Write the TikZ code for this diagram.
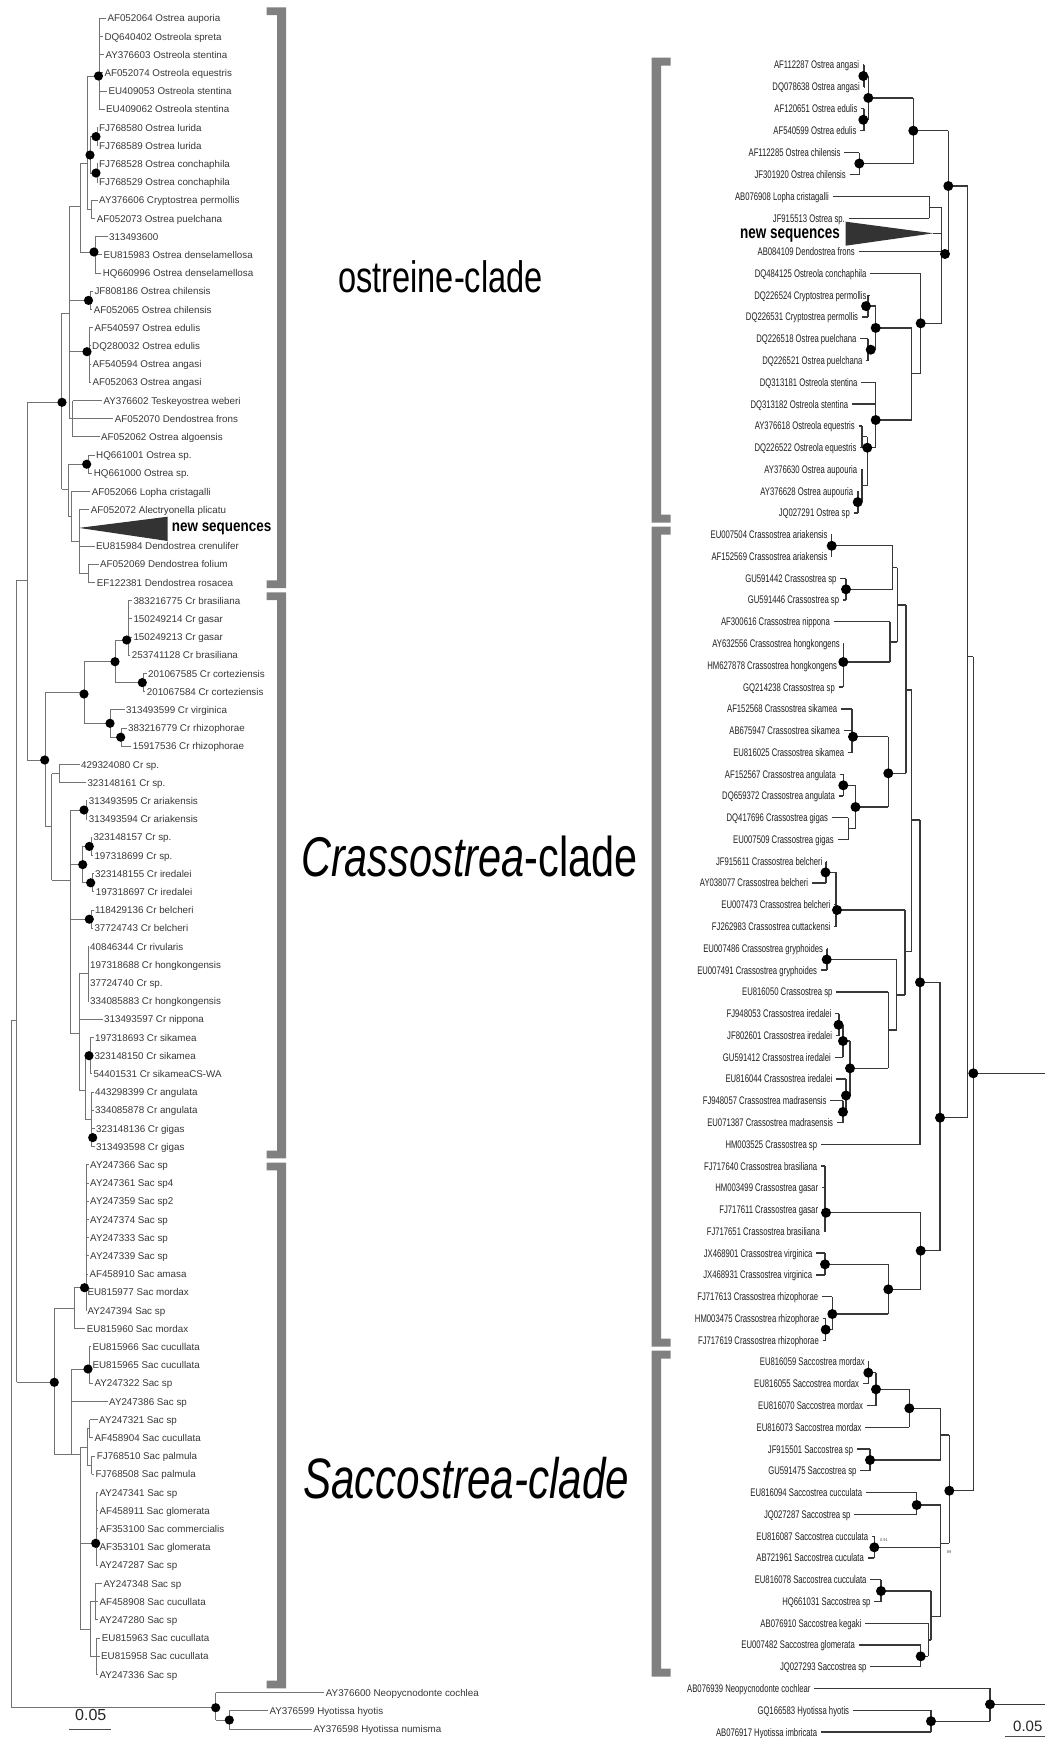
\documentclass[tikz,border=0pt]{standalone}
\usepackage{fontspec}
\setmainfont{Liberation Sans}
\newfontfamily\narrowfont[FakeStretch=0.7]{Liberation Sans}
\newfontfamily\seqLfont[FakeStretch=0.84]{Liberation Sans}
\newfontfamily\seqRfont[FakeStretch=0.75]{Liberation Sans}
\newfontfamily\cladefont[FakeStretch=0.74]{Liberation Sans}
\newcounter{dotc}
\tikzset{
 lt/.style={draw=black!55, line width=0.9pt},
 rt/.style={draw=black!78, line width=1.3pt},
 llab/.style={anchor=west, inner sep=0pt, font=\fontsize{9.8}{10}\selectfont, text=black!78, text height=7pt, text depth=0pt},
 rlab/.style={anchor=east, inner sep=0pt, font=\narrowfont\fontsize{11}{11}\selectfont, text=black!88, text height=7.9pt, text depth=0pt},
 ldotst/.style={fill=black, circle, inner sep=0pt, minimum size=9.2pt},
 rdotst/.style={fill=black, circle, inner sep=0pt, minimum size=10pt},
 brk/.style={fill=black!50, draw=none},
 cladelab/.style={anchor=base west, inner sep=0pt, text=black},
}
\newcommand\vL[3]{\draw[lt] (#1,#2) -- (#1,#3);}
\newcommand\hL[3]{\draw[lt] (#1,#3) -- (#2,#3);}
\newcommand\vR[3]{\draw[rt] (#1,#2) -- (#1,#3);}
\newcommand\hR[3]{\draw[rt] (#1,#3) -- (#2,#3);}
\newcommand\dotL[2]{\stepcounter{dotc}\node[ldotst] (dl\thedotc) at (#1,#2) {};}
\newcommand\dotR[2]{\stepcounter{dotc}\node[rdotst] (dr\thedotc) at (#1,#2) {};}
\newcommand\lleaf[4]{%
 \pgfmathsetmacro\yy{18.3+(#1-1)*18.2}%
 \draw[lt] (#2,\yy) -- ({#3-1.5},\yy);%
 \node[llab] (L#1) at (#3,\yy) {#4};}
\newcommand\rleaf[4]{%
 \pgfmathsetmacro\yy{#1<9 ? 65+(#1-1)*21.9 : 251.7+(#1-9)*21.77}%
 \draw[rt] ({#2+3.5},\yy) -- (#3,\yy);%
 \node[rlab] (R#1) at (#2,\yy) {#4};}
\newcommand\lbrk[2]{\fill[brk] (266.7,#1) -- (286,#1) -- (286,#2) -- (266.7,#2) -- (266.7,{#2-7.7}) -- (277,{#2-7.7}) -- (277,{#1+7.7}) -- (266.7,{#1+7.7}) -- cycle;}
\newcommand\rbrk[2]{\fill[brk] (670.7,#1) -- (651.7,#1) -- (651.7,#2) -- (670.7,#2) -- (670.7,{#2-8}) -- (661,{#2-8}) -- (661,{#1+8}) -- (670.7,{#1+8}) -- cycle;}
\begin{document}
\begin{tikzpicture}[x=1pt,y=-1pt]
\fill[white] (0,0) rectangle (1045,1738);
\path[use as bounding box] (0,0) rectangle (1045,1738);
% ================= LEFT TREE =================
% ostreine
\vL{99}{18.3}{109.3} \hL{87.3}{99}{76}
\vL{97}{127.5}{145.7} \vL{97}{163.9}{182.1}
\vL{90}{136.6}{173} \hL{90}{97}{136.6} \hL{90}{97}{173} \hL{87.3}{90}{155}
\vL{91.7}{200.3}{218.5} \hL{87.3}{91.7}{209.4}
\vL{87.3}{76}{209.4} \hL{80}{87.3}{163}
\vL{95}{236.7}{273.1} \hL{80}{95}{252}
\vL{80}{163}{252} \hL{69}{80}{206.7}
\vL{90}{291.3}{309.5} \hL{69}{90}{300.4}
\vL{89}{327.7}{382.3} \hL{69}{89}{351.7}
\vL{72.7}{400.5}{436.9}
\vL{69}{206.7}{418.7} \hL{61.7}{69}{313.3}
\vL{88}{455.1}{473.3} \hL{68.3}{88}{464.2}
\vL{88.3}{564.3}{582.5} \hL{79}{88.3}{573.4}
\vL{79}{509.7}{573.4} \hL{71}{79}{541.7}
\vL{71}{491.5}{541.7} \hL{68.3}{71}{516.7}
\vL{68.3}{464.2}{516.7} \hL{61.7}{68.3}{489}
\vL{61.7}{313.3}{489} \hL{27.3}{61.7}{402.3}
\fill[black!80] (79,527.9) -- (167.7,516.7) -- (167.7,541) -- cycle;
% crassostrea
\vL{128.3}{600.7}{655.3} \vL{143}{673.5}{691.7}
\vL{115}{640}{682.6} \hL{115}{128.3}{640} \hL{115}{143}{682.6}
\vL{121}{728.1}{746.3} \vL{110}{709.9}{737.2} \hL{110}{121}{737.2}
\vL{84}{661.7}{723.3} \hL{84}{115}{661.7} \hL{84}{110}{723.3}
\hL{45}{84}{692}
\vL{59.3}{764.5}{782.7} \hL{51.7}{59.3}{773.6}
\vL{86}{800.9}{819.1}
\vL{91}{837.3}{855.5} \vL{92}{873.7}{891.9}
\vL{82.7}{846.4}{882.8} \hL{82.7}{91}{846.4} \hL{82.7}{92}{882.8}
\vL{91}{910.1}{928.3}
\vL{88.3}{946.5}{1001.1} \hL{79}{88.3}{973.8}
\vL{90}{1037.5}{1073.9} \vL{91}{1092.1}{1146.7}
\vL{85}{1055.7}{1119.4} \hL{85}{90}{1055.7} \hL{85}{91}{1119.4}
\vL{79}{973.8}{1090} \hL{79}{85}{1090}
\vL{70}{810}{1033} \hL{70}{86}{810} \hL{70}{82.7}{864.6} \hL{70}{91}{919.2} \hL{70}{79}{1033}
\vL{51.7}{773.6}{880} \hL{51.7}{70}{880}
\vL{45}{692}{826.7} \hL{45}{51.7}{826.7} \hL{27.3}{45}{760}
\vL{27.3}{402.3}{760} \hL{16.7}{27.3}{580}
% saccostrea
\vL{86}{1164.9}{1310.5} \hL{74}{86}{1287.7}
\vL{74}{1287.7}{1328.7} \hL{54.3}{74}{1308.2}
\vL{89}{1346.9}{1383.3} \hL{71}{89}{1369}
\vL{71}{1369}{1454.3}
\vL{89.5}{1419.7}{1437.9} \vL{91.5}{1456.1}{1474.3}
\vL{87.3}{1428.8}{1465.2} \hL{87.3}{89.5}{1428.8} \hL{87.3}{91.5}{1465.2} \hL{80}{87.3}{1447}
\vL{96}{1492.5}{1565.3} \hL{80}{96}{1543.3}
\vL{95}{1583.5}{1619.9} \vL{96.7}{1638.1}{1674.5}
\vL{90}{1601.7}{1656.3} \hL{90}{95}{1601.7} \hL{90}{96.7}{1656.3} \hL{80}{90}{1629}
\vL{80}{1447}{1629}
\hL{54.3}{80}{1454.3}
\vL{54.3}{1308.2}{1454.3} \hL{16.7}{54.3}{1382.3}
\vL{16.7}{580}{1382.3} \hL{11.7}{16.7}{1020}
\vL{11.7}{1020}{1707.7} \hL{11.7}{215.7}{1707.7}
\vL{215.7}{1692.7}{1720} \hL{215.7}{229.3}{1720}
\vL{229.3}{1710.9}{1729.1}
% left leaves
\lleaf{1}{99}{107.3}{AF052064 Ostrea auporia}
\lleaf{2}{99}{104.3}{DQ640402 Ostreola spreta}
\lleaf{3}{99}{105.3}{AY376603 Ostreola stentina}
\lleaf{4}{99}{104.3}{AF052074 Ostreola equestris}
\lleaf{5}{99}{108.3}{EU409053 Ostreola stentina}
\lleaf{6}{99}{106}{EU409062 Ostreola stentina}
\lleaf{7}{97}{99}{FJ768580 Ostrea lurida}
\lleaf{8}{97}{99}{FJ768589 Ostrea lurida}
\lleaf{9}{97}{99}{FJ768528 Ostrea conchaphila}
\lleaf{10}{97}{99}{FJ768529 Ostrea conchaphila}
\lleaf{11}{91.7}{99}{AY376606 Cryptostrea permollis}
\lleaf{12}{91.7}{96.7}{AF052073 Ostrea puelchana}
\lleaf{13}{95}{109}{313493600}
\lleaf{14}{95}{103.3}{EU815983 Ostrea denselamellosa}
\lleaf{15}{95}{102.7}{HQ660996 Ostrea denselamellosa}
\lleaf{16}{90}{94.3}{JF808186 Ostrea chilensis}
\lleaf{17}{90}{93.7}{AF052065 Ostrea chilensis}
\lleaf{18}{89}{94.3}{AF540597 Ostrea edulis}
\lleaf{19}{89}{92}{DQ280032 Ostrea edulis}
\lleaf{20}{89}{92.3}{AF540594 Ostrea angasi}
\lleaf{21}{89}{92.3}{AF052063 Ostrea angasi}
\lleaf{22}{72.7}{103.3}{AY376602 Teskeyostrea weberi}
\lleaf{23}{69}{114.7}{AF052070 Dendostrea frons}
\lleaf{24}{72.7}{101}{AF052062 Ostrea algoensis}
\lleaf{25}{88}{96}{HQ661001 Ostrea sp.}
\lleaf{26}{88}{93.7}{HQ661000 Ostrea sp.}
\lleaf{27}{71}{91.7}{AF052066 Lopha cristagalli}
\lleaf{28}{79}{90.7}{AF052072 Alectryonella plicatu}
\lleaf{30}{79}{96}{EU815984 Dendostrea crenulifer}
\lleaf{31}{88.3}{100}{AF052069 Dendostrea folium}
\lleaf{32}{88.3}{96.7}{EF122381 Dendostrea rosacea}
\lleaf{33}{128.3}{133.3}{383216775 Cr brasiliana}
\lleaf{34}{128.3}{133.3}{150249214 Cr gasar}
\lleaf{35}{128.3}{133.3}{150249213 Cr gasar}
\lleaf{36}{128.3}{131.7}{253741128 Cr brasiliana}
\lleaf{37}{143}{148}{201067585 Cr corteziensis}
\lleaf{38}{143}{146.7}{201067584 Cr corteziensis}
\lleaf{39}{110}{126}{313493599 Cr virginica}
\lleaf{40}{121}{128}{383216779 Cr rhizophorae}
\lleaf{41}{121}{132.7}{15917536 Cr rhizophorae}
\lleaf{42}{59.3}{81}{429324080 Cr sp.}
\lleaf{43}{59.3}{87.3}{323148161 Cr sp.}
\lleaf{44}{86}{88.7}{313493595 Cr ariakensis}
\lleaf{45}{86}{88.7}{313493594 Cr ariakensis}
\lleaf{46}{91}{93.3}{323148157 Cr sp.}
\lleaf{47}{91}{94.3}{197318699 Cr sp.}
\lleaf{48}{92}{95}{323148155 Cr iredalei}
\lleaf{49}{92}{95.7}{197318697 Cr iredalei}
\lleaf{50}{91}{95}{118429136 Cr belcheri}
\lleaf{51}{91}{94.3}{37724743 Cr belcheri}
\lleaf{52}{88.3}{90}{40846344 Cr rivularis}
\lleaf{53}{88.3}{90}{197318688 Cr hongkongensis}
\lleaf{54}{88.3}{90}{37724740 Cr sp.}
\lleaf{55}{88.3}{90}{334085883 Cr hongkongensis}
\lleaf{56}{79}{104}{313493597 Cr nippona}
\lleaf{57}{90}{95}{197318693 Cr sikamea}
\lleaf{58}{90}{94.3}{323148150 Cr sikamea}
\lleaf{59}{90}{93.3}{54401531 Cr sikameaCS-WA}
\lleaf{60}{91}{95}{443298399 Cr angulata}
\lleaf{61}{91}{95}{334085878 Cr angulata}
\lleaf{62}{91}{96}{323148136 Cr gigas}
\lleaf{63}{91}{96}{313493598 Cr gigas}
\lleaf{64}{86}{90}{AY247366 Sac sp}
\lleaf{65}{86}{90}{AY247361 Sac sp4}
\lleaf{66}{86}{90}{AY247359 Sac sp2}
\lleaf{67}{86}{90}{AY247374 Sac sp}
\lleaf{68}{86}{90}{AY247333 Sac sp}
\lleaf{69}{86}{90}{AY247339 Sac sp}
\lleaf{70}{86}{89.3}{AF458910 Sac amasa}
\lleaf{71}{86}{87.3}{EU815977 Sac mordax}
\lleaf{72}{86}{87.3}{AY247394 Sac sp}
\lleaf{73}{74}{86.7}{EU815960 Sac mordax}
\lleaf{74}{89}{92.3}{EU815966 Sac cucullata}
\lleaf{75}{89}{92.3}{EU815965 Sac cucullata}
\lleaf{76}{89}{94.3}{AY247322 Sac sp}
\lleaf{77}{71}{109}{AY247386 Sac sp}
\lleaf{78}{89.5}{99}{AY247321 Sac sp}
\lleaf{79}{89.5}{94.3}{AF458904 Sac cucullata}
\lleaf{80}{91.5}{96.7}{FJ768510 Sac palmula}
\lleaf{81}{91.5}{95.3}{FJ768508 Sac palmula}
\lleaf{82}{96}{99.3}{AY247341 Sac sp}
\lleaf{83}{96}{99.3}{AF458911 Sac glomerata}
\lleaf{84}{96}{99.3}{AF353100 Sac commercialis}
\lleaf{85}{96}{99.3}{AF353101 Sac glomerata}
\lleaf{86}{96}{99.3}{AY247287 Sac sp}
\lleaf{87}{95}{103.3}{AY247348 Sac sp}
\lleaf{88}{95}{99.3}{AF458908 Sac cucullata}
\lleaf{89}{95}{99.3}{AY247280 Sac sp}
\lleaf{90}{96.7}{101.7}{EU815963 Sac cucullata}
\lleaf{91}{96.7}{101}{EU815958 Sac cucullata}
\lleaf{92}{96.7}{99.3}{AY247336 Sac sp}
\lleaf{93}{215.7}{325.7}{AY376600 Neopycnodonte cochlea}
\lleaf{94}{229.3}{269.3}{AY376599 Hyotissa hyotis}
\lleaf{95}{229.3}{313.3}{AY376598 Hyotissa numisma}
% left dots
\dotL{98.5}{76} \dotL{96}{136.6} \dotL{90}{155} \dotL{96}{173} \dotL{94}{252} \dotL{88.5}{300.4}
\dotL{87}{351.7} \dotL{62}{402.3} \dotL{86.7}{464.2}
\dotL{126.7}{640} \dotL{115}{661.7} \dotL{142.3}{682.6} \dotL{84}{694} \dotL{110}{723.3} \dotL{120.7}{737.2}
\dotL{44.7}{760} \dotL{84}{810} \dotL{89.3}{846.4} \dotL{82.7}{864.6} \dotL{90.7}{882.8} \dotL{89.3}{919.2}
\dotL{89}{1055.7} \dotL{92.7}{1137.6}
\dotL{84.5}{1287.7} \dotL{88}{1369} \dotL{54.3}{1382.3} \dotL{95.7}{1543.3}
\dotL{215.7}{1707.7} \dotL{229.3}{1720}
% new sequences (left)
\node[anchor=base west, inner sep=0pt, font=\seqLfont\bfseries\fontsize{16}{16}\selectfont] (nsL) at (171.7,531.7) {new sequences};
% brackets left
\lbrk{7.3}{588} \lbrk{592.3}{1158.3} \lbrk{1162.7}{1688.3}
% clade labels
\node[cladelab, font=\cladefont\fontsize{44}{44}\selectfont] (cl1) at (338,292) {ostreine-clade};
\node[cladelab, font=\cladefont\fontsize{56}{56}\selectfont] (cl2) at (301,876) {\itshape Crassostrea\upshape-clade};
\node[cladelab, font=\cladefont\fontsize{57}{57}\selectfont] (cl3) at (303,1498) {\itshape Saccostrea-clade};
% scale bar left
\node[anchor=base west, inner sep=0pt, font=\fontsize{16}{16}\selectfont, text=black!85] (sbL) at (75,1720) {0.05};
\draw[line width=1.3pt, black!70] (69.3,1729.3) -- (110.7,1729.3);
% ================= RIGHT TREE =================
% ostreine
\vR{864}{65}{86.9} \vR{864}{108.8}{130.7}
\vR{868.3}{76}{119.8} \hR{864}{868.3}{76} \hR{864}{868.3}{119.8}
\hR{868.3}{913.3}{97.9}
\vR{859.3}{152.6}{174.5} \hR{859.3}{913.3}{163.5}
\vR{913.3}{97.9}{163.5} \hR{913.3}{948.3}{130.7}
\vR{929.3}{196.4}{218.3} \hR{929.3}{941.7}{207.3}
\hR{933.3}{941.7}{233.3}
\vR{941.7}{207.3}{323.3} \hR{941.7}{948.3}{254}
\vR{948.3}{130.7}{254} \hR{948.3}{967.7}{186}
\fill[black!80] (933.3,233.3) -- (845.7,221.7) -- (845.7,245.7) -- cycle;
\vR{868}{295.2}{317} \hR{868}{875.7}{306.1}
\vR{868}{338.8}{360.5} \hR{868}{875.7}{349.7}
\vR{875.7}{306.1}{349.7} \hR{875.7}{911.7}{327.9}
\vR{862}{425.9}{447.7} \hR{862}{867.3}{436.8}
\vR{858}{491.2}{513} \vR{862}{469.4}{502.1} \hR{858}{862}{502.1} \hR{862}{867.3}{485.8}
\vR{867.3}{436.8}{485.8} \hR{867.3}{875.7}{447.7}
\vR{875.7}{382.3}{447.7} \hR{875.7}{911.7}{420}
\vR{911.7}{327.9}{420} \hR{911.7}{920.7}{373.3}
\vR{920.7}{273.5}{373.3} \hR{920.7}{941.7}{323.3}
% crassostrea
\vR{831.7}{534.9}{556.7} \hR{831.7}{892.7}{545.8}
\vR{846}{578.5}{600.2} \hR{846}{892.7}{589.3}
\vR{892.7}{545.8}{589.3} \hR{892.7}{897.3}{567.5}
\vR{843.3}{643.8}{687.3} \hR{843.3}{890}{662}
\vR{890}{622}{662} \hR{890}{897.3}{642}
\vR{897.3}{567.5}{642} \hR{897.3}{906}{605}
\vR{852}{709.1}{752.6} \hR{852}{888.3}{736.7}
\vR{843.3}{774.4}{796.2} \hR{843.3}{855.5}{785.3}
\vR{848.3}{817.9}{839.7} \hR{848.3}{855.5}{828.8}
\vR{855.5}{785.3}{828.8} \hR{855.5}{888.3}{807}
\vR{888.3}{736.7}{807} \hR{888.3}{906}{773.3}
\vR{906}{605}{773.3} \hR{906}{911.7}{690}
\vR{826}{861.5}{883.3} \hR{826}{836}{872.4}
\vR{836}{872.4}{926.8} \hR{836}{905}{910}
\vR{827}{948.6}{970.4} \hR{827}{896.7}{959.5}
\vR{839}{1013.9}{1035.7} \hR{839}{843}{1024.8}
\vR{843}{1024.8}{1057.4} \hR{843}{850}{1041}
\vR{843}{1101}{1122.8} \hR{843}{846}{1111.9}
\vR{846}{1079.2}{1111.9} \hR{846}{850}{1095.5}
\vR{850}{1041}{1095.5} \hR{850}{888.3}{1068.3}
\vR{888.3}{992.1}{1068.3} \hR{888.3}{896.7}{1030}
\vR{896.7}{959.5}{1030} \hR{896.7}{905}{995}
\vR{905}{910}{995} \hR{905}{911.7}{951.7}
\vR{911.7}{690}{951.7} \hR{911.7}{920}{820}
\vR{920}{820}{1144.6} \hR{920}{940}{982.3}
\vR{825}{1166.3}{1231.7} \hR{825}{920.7}{1212.7}
\vR{825}{1253.4}{1275.2} \hR{825}{888.3}{1264.3}
\vR{825.7}{1318.8}{1340.5} \hR{825.7}{832.3}{1329.6}
\vR{832.3}{1297}{1329.6} \hR{832.3}{888.3}{1314}
\vR{888.3}{1264.3}{1314} \hR{888.3}{920.7}{1289.3}
\vR{920.7}{1212.7}{1289.3} \hR{920.7}{940}{1250.7}
\vR{940}{982.3}{1250.7} \hR{940}{967.7}{1117.7}
\vR{967.7}{186}{1117.7} \hR{967.7}{973.3}{656.7}
\vR{973.3}{656.7}{1490.7} \hR{973.3}{1045}{1073.3}
% saccostrea
\vR{868.3}{1362}{1383.8}
\vR{876}{1372.7}{1405.6} \hR{868.3}{876}{1372.7} \hR{876}{909.3}{1389.3}
\vR{909.3}{1389.3}{1427.4} \hR{909.3}{940.7}{1408.3}
\vR{870}{1449.2}{1471}   \hR{870}{940.7}{1460}
\vR{940.7}{1408.3}{1460} \hR{940.7}{949.3}{1435}
\vR{916.7}{1492.8}{1514.5} \hR{916.7}{940.7}{1505}
\vR{874.3}{1536.3}{1558.1} \hR{874.3}{940.7}{1547.3}
\vR{881}{1579.8}{1601.6} \hR{881}{931}{1591}
\vR{920.7}{1645.1}{1666.9} \hR{920.7}{928.3}{1656.3}
\vR{928.3}{1623.3}{1656.3} \hR{928.3}{931}{1640}
\vR{931}{1591}{1640} \hR{931}{940.7}{1616.7}
\vR{940.7}{1505}{1616.7} \hR{940.7}{949.3}{1543.3}
\vR{949.3}{1435}{1543.3} \hR{949.3}{973.3}{1490.7}
% outgroup
\vR{931}{1710.1}{1731.9} \hR{931}{990}{1721.2}
\vR{990}{1688.3}{1721.2} \hR{990}{1045}{1704.3}
% right leaves
\rleaf{1}{859.3}{864}{AF112287 Ostrea angasi}
\rleaf{2}{860}{864}{DQ078638 Ostrea angasi}
\rleaf{3}{857.7}{864}{AF120651 Ostrea edulis}
\rleaf{4}{856.7}{864}{AF540599 Ostrea edulis}
\rleaf{5}{840.7}{859.3}{AF112285 Ostrea chilensis}
\rleaf{6}{846}{859.3}{JF301920 Ostrea chilensis}
\rleaf{7}{829}{929.3}{AB076908 Lopha cristagalli}
\rleaf{8}{845}{929.3}{JF915513 Ostrea sp.}
\rleaf{9}{855}{941.7}{AB084109 Dendostrea frons}
\rleaf{10}{866.7}{920.7}{DQ484125 Ostreola conchaphila}
\rleaf{11}{866.7}{868}{DQ226524 Cryptostrea permollis}
\rleaf{12}{858.3}{868}{DQ226531 Cryptostrea permollis}
\rleaf{13}{856.7}{868}{DQ226518 Ostrea puelchana}
\rleaf{14}{862.7}{868}{DQ226521 Ostrea puelchana}
\rleaf{15}{857.7}{875.7}{DQ313181 Ostreola stentina}
\rleaf{16}{848.3}{875.7}{DQ313182 Ostreola stentina}
\rleaf{17}{855}{862}{AY376618 Ostreola equestris}
\rleaf{18}{856.7}{862}{DQ226522 Ostreola equestris}
\rleaf{19}{857.3}{862}{AY376630 Ostrea aupouria}
\rleaf{20}{853.3}{858}{AY376628 Ostrea aupouria}
\rleaf{21}{850}{858}{JQ027291 Ostrea sp}
\rleaf{22}{827.7}{831.7}{EU007504 Crassostrea ariakensis}
\rleaf{23}{827.7}{831.7}{AF152569 Crassostrea ariakensis}
\rleaf{24}{836.7}{846}{GU591442 Crassostrea sp}
\rleaf{25}{839.3}{846}{GU591446 Crassostrea sp}
\rleaf{26}{830}{890}{AF300616 Crassostrea nippona}
\rleaf{27}{840}{843.3}{AY632556 Crassostrea hongkongens}
\rleaf{28}{837.3}{843.3}{HM627878 Crassostrea hongkongens}
\rleaf{29}{835}{843.3}{GQ214238 Crassostrea sp}
\rleaf{30}{837.3}{852}{AF152568 Crassostrea sikamea}
\rleaf{31}{840}{852}{AB675947 Crassostrea sikamea}
\rleaf{32}{844.3}{852}{EU816025 Crassostrea sikamea}
\rleaf{33}{836}{843.3}{AF152567 Crassostrea angulata}
\rleaf{34}{835}{843.3}{DQ659372 Crassostrea angulata}
\rleaf{35}{828.3}{848.3}{DQ417696 Crassostrea gigas}
\rleaf{36}{834}{848.3}{EU007509 Crassostrea gigas}
\rleaf{37}{822.7}{826}{JF915611 Crassostrea belcheri}
\rleaf{38}{808.3}{826}{AY038077 Crassostrea belcheri}
\rleaf{39}{830.7}{836}{EU007473 Crassostrea belcheri}
\rleaf{40}{830.7}{836}{FJ262983 Crassostrea cuttackensi}
\rleaf{41}{823.3}{827}{EU007486 Crassostrea gryphoides}
\rleaf{42}{817.3}{827}{EU007491 Crassostrea gryphoides}
\rleaf{43}{832.7}{888.3}{EU816050 Crassostrea sp}
\rleaf{44}{831.7}{839}{FJ948053 Crassostrea iredalei}
\rleaf{45}{832.3}{839}{JF802601 Crassostrea iredalei}
\rleaf{46}{831}{843}{GU591412 Crassostrea iredalei}
\rleaf{47}{832.7}{846}{EU816044 Crassostrea iredalei}
\rleaf{48}{826.7}{843}{FJ948057 Crassostrea madrasensis}
\rleaf{49}{833.3}{843}{EU071387 Crassostrea madrasensis}
\rleaf{50}{817.3}{920}{HM003525 Crassostrea sp}
\rleaf{51}{817.3}{825}{FJ717640 Crassostrea brasiliana}
\rleaf{52}{818.3}{825}{HM003499 Crassostrea gasar}
\rleaf{53}{818.3}{825}{FJ717611 Crassostrea gasar}
\rleaf{54}{820}{825}{FJ717651 Crassostrea brasiliana}
\rleaf{55}{812.7}{825}{JX468901 Crassostrea virginica}
\rleaf{56}{812.3}{825}{JX468931 Crassostrea virginica}
\rleaf{57}{818.3}{832.3}{FJ717613 Crassostrea rhizophorae}
\rleaf{58}{819.3}{825.7}{HM003475 Crassostrea rhizophorae}
\rleaf{59}{819}{825.7}{FJ717619 Crassostrea rhizophorae}
\rleaf{60}{865}{868.3}{EU816059 Saccostrea mordax}
\rleaf{61}{859.3}{868.3}{EU816055 Saccostrea mordax}
\rleaf{62}{863.3}{876}{EU816070 Saccostrea mordax}
\rleaf{63}{861.7}{909.3}{EU816073 Saccostrea mordax}
\rleaf{64}{853.3}{870}{JF915501 Saccostrea sp}
\rleaf{65}{856.7}{870}{GU591475 Saccostrea sp}
\rleaf{66}{862.3}{916.7}{EU816094 Saccostrea cucculata}
\rleaf{67}{850.7}{916.7}{JQ027287 Saccostrea sp}
\rleaf{68}{868.3}{874.3}{EU816087 Saccostrea cucculata}
\rleaf{69}{864}{874.3}{AB721961 Saccostrea cuculata}
\rleaf{70}{866.7}{881}{EU816078 Saccostrea cucculata}
\rleaf{71}{870.7}{881}{HQ661031 Saccostrea sp}
\rleaf{72}{861.7}{928.3}{AB076910 Saccostrea kegaki}
\rleaf{73}{855}{920.7}{EU007482 Saccostrea glomerata}
\rleaf{74}{866.7}{920.7}{JQ027293 Saccostrea sp}
\rleaf{75}{810.7}{990}{AB076939 Neopycnodonte cochlear}
\rleaf{76}{849.3}{931}{GQ166583 Hyotissa hyotis}
\rleaf{77}{817.3}{931}{AB076917 Hyotissa imbricata}
% right dots
\dotR{863.3}{76} \dotR{868.3}{97.9} \dotR{863.3}{119.8} \dotR{913.3}{130.7} \dotR{859.3}{163.5}
\dotR{948.3}{186} \dotR{945}{254} \dotR{866}{306.1} \dotR{920.7}{323.3} \dotR{875.7}{327.9}
\dotR{870.7}{349.7} \dotR{875.7}{420} \dotR{867.3}{447.7} \dotR{857.7}{502.1}
\dotR{831.7}{545.8} \dotR{846}{589.3} \dotR{843.3}{662} \dotR{853}{736.7} \dotR{888.3}{773.3}
\dotR{843.3}{785.3} \dotR{855.5}{807} \dotR{825.5}{872.4} \dotR{837}{910} \dotR{826.7}{959.5}
\dotR{920}{982.3} \dotR{838.5}{1024.8} \dotR{843}{1041} \dotR{850}{1068.3} \dotR{973.3}{1073.3}
\dotR{846}{1095.5} \dotR{843}{1111.9} \dotR{940}{1117.7} \dotR{826}{1212.7} \dotR{920.7}{1250.7}
\dotR{825}{1264.3} \dotR{888.3}{1289.3} \dotR{832.3}{1314} \dotR{825.7}{1329.6}
\dotR{868.3}{1372.7} \dotR{876}{1389.3} \dotR{909.3}{1408.3} \dotR{870}{1460} \dotR{949.3}{1490.7}
\dotR{916.7}{1505} \dotR{874.3}{1547.3} \dotR{881}{1591} \dotR{920.7}{1656.3}
\dotR{990}{1704.3} \dotR{931}{1721.2}
% tiny support values
\node[inner sep=0pt, font=\fontsize{4}{4}\selectfont, text=black!70] (sv1) at (884,1540) {0.91};
\node[inner sep=0pt, font=\fontsize{4}{4}\selectfont, text=black!70] (sv2) at (949,1552) {89};
% new sequences (right)
\node[anchor=base east, inner sep=0pt, font=\seqRfont\bfseries\fontsize{18}{18}\selectfont] (nsR) at (840,238) {new sequences};
% brackets right
\rbrk{57.7}{522.7} \rbrk{526.7}{1346.7} \rbrk{1350.7}{1676.7}
% scale bar right
\node[anchor=base west, inner sep=0pt, font=\fontsize{15}{15}\selectfont, text=black!85] (sbR) at (1013,1731) {0.05};
\draw[line width=1.3pt, black!70] (1005,1736.7) -- (1045,1736.7);
\end{tikzpicture}
\end{document}
